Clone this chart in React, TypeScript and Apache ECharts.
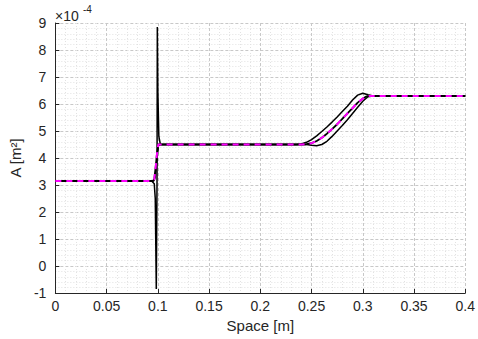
import React, { useEffect, useRef } from "react";
import * as echarts from "echarts";

// values of A in units of 1e-4 m^2
const xMid = [0, 0.095, 0.0965, 0.098, 0.099, 0.1005, 0.102, 0.24, 0.245, 0.25, 0.255, 0.26, 0.265, 0.27, 0.275, 0.28, 0.285, 0.29, 0.295, 0.3, 0.303, 0.306, 0.4];
const yMid = [3.15, 3.15, 3.2, 3.7, 4.1, 4.5, 4.5, 4.5, 4.51, 4.55, 4.63, 4.75, 4.9, 5.07, 5.25, 5.45, 5.65, 5.85, 6.05, 6.2, 6.27, 6.3, 6.3];

const xLead = [0, 0.094, 0.0965, 0.0975, 0.0985, 0.0992, 0.0995, 0.1, 0.101, 0.1025, 0.235, 0.24, 0.245, 0.25, 0.255, 0.26, 0.265, 0.27, 0.275, 0.28, 0.285, 0.29, 0.295, 0.3, 0.305, 0.31, 0.4];
const yLead = [3.15, 3.15, 3.05, 2.5, -0.85, 3.0, 8.85, 6.5, 4.8, 4.5, 4.5, 4.52, 4.58, 4.68, 4.82, 4.98, 5.15, 5.33, 5.52, 5.72, 5.92, 6.15, 6.33, 6.4, 6.34, 6.3, 6.3];

const xLag = [0, 0.096, 0.0975, 0.099, 0.1005, 0.102, 0.245, 0.25, 0.255, 0.26, 0.265, 0.27, 0.275, 0.28, 0.285, 0.29, 0.295, 0.3, 0.305, 0.31, 0.4];
const yLag = [3.15, 3.15, 3.3, 3.9, 4.45, 4.5, 4.5, 4.47, 4.45, 4.5, 4.62, 4.8, 5.0, 5.2, 5.42, 5.65, 5.88, 6.1, 6.27, 6.3, 6.3];

const xTicks = { min: 0, max: 0.4, interval: 0.05 };
const yTicks = { min: -1, max: 9, interval: 1 };

const pair = (xs: number[], ys: number[]) => xs.map((x, i) => [x, ys[i]]);

const FONT = "Liberation Sans";
const TXT = "#262626";

export default function App() {
  const ref = useRef<HTMLDivElement>(null);
  useEffect(() => {
    if (!ref.current) return;
    const chart = echarts.init(ref.current, null, { renderer: "svg" });
    const axisCommon = {
      axisLine: { show: true, onZero: false, lineStyle: { color: TXT, width: 1 } },
      axisTick: { show: true, inside: true, length: 4, lineStyle: { color: TXT } },
      minorTick: { show: false, splitNumber: 5 },
      splitLine: { show: true, lineStyle: { color: "#c8c8c8", type: [3, 2], width: 1 } },
      minorSplitLine: { show: true, lineStyle: { color: "#e2e2e2", type: [1, 2], width: 1 } },
      axisLabel: { color: TXT, fontFamily: FONT, fontSize: 14 },
      nameTextStyle: { color: TXT, fontFamily: FONT, fontSize: 15 },
    };
    chart.setOption({
      animation: false,
      backgroundColor: "#ffffff",
      grid: { left: 53, right: 12, top: 23, bottom: 46, containLabel: false },
      xAxis: {
        type: "value",
        ...xTicks,
        ...axisCommon,
        axisLabel: { ...axisCommon.axisLabel, margin: 6, formatter: (v: number) => String(+v.toFixed(2)) },
        name: "Space [m]",
        nameLocation: "middle",
        nameGap: 19,
      },
      yAxis: {
        type: "value",
        ...yTicks,
        ...axisCommon,
        axisLabel: { ...axisCommon.axisLabel, margin: 9 },
        name: "A [m²]",
        nameLocation: "middle",
        nameGap: 25,
      },
      graphic: [
        { type: "text", left: 55, top: 9, style: { text: "×10", fill: TXT, font: `14px ${FONT}` } },
        { type: "text", left: 83, top: 4, style: { text: "-4", fill: TXT, font: `10px ${FONT}` } },
      ],
      series: [
        {
          type: "line", data: pair(xLead, yLead), showSymbol: false, symbol: "none",
          lineStyle: { color: "#000000", width: 1.5 }, z: 2,
        },
        {
          type: "line", data: pair(xLag, yLag), showSymbol: false, symbol: "none",
          lineStyle: { color: "#000000", width: 1.5 }, z: 2,
        },
        {
          type: "line", data: pair(xMid, yMid), showSymbol: false, symbol: "none",
          lineStyle: { color: "#000000", width: 1.8 }, z: 3,
        },
        {
          type: "line", data: pair(xMid, yMid), showSymbol: false, symbol: "none",
          lineStyle: { color: "#ff00ff", width: 2, type: [6, 5] }, z: 4,
        },
      ],
    });
    return () => chart.dispose();
  }, []);
  return <div ref={ref} style={{ width: 478, height: 339, position: "absolute", left: 0, top: 0 }} />;
}
